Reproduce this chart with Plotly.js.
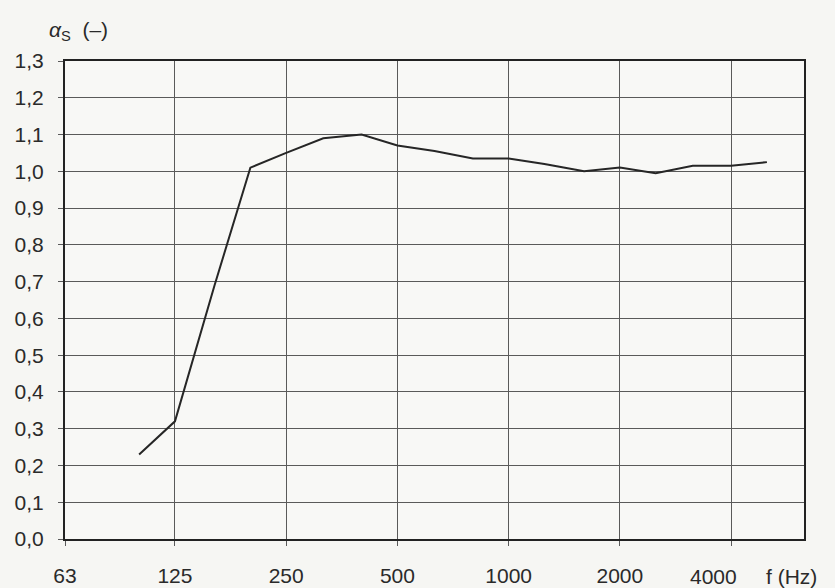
<!DOCTYPE html>
<html>
<head>
<meta charset="utf-8">
<script src="https://cdn.plot.ly/plotly-3.0.1.min.js"></script>
<style>html,body{margin:0;padding:0;background:#f6f6f3;}#chart{width:835px;height:588px;}</style>
</head>
<body>
<div id="chart"></div>
<script>
const frequencies = [100, 125, 160, 200, 250, 315, 400, 500, 630, 800, 1000, 1250, 1600, 2000, 2500, 3150, 4000, 5000];
const alphaS = [0.23, 0.32, 0.69, 1.01, 1.05, 1.09, 1.10, 1.07, 1.055, 1.035, 1.035, 1.02, 1.0, 1.01, 0.995, 1.015, 1.015, 1.025];
const xTickVals = [63, 125, 250, 500, 1000, 2000];
const xTickText = ['63', '125', '250', '500', '1000', '2000'];
const xLastTick = 4000;
const xLastText = '4000';
const yTickVals = [0, 0.1, 0.2, 0.3, 0.4, 0.5, 0.6, 0.7, 0.8, 0.9, 1.0, 1.1, 1.2, 1.3];
const yTickText = ['0,0', '0,1', '0,2', '0,3', '0,4', '0,5', '0,6', '0,7', '0,8', '0,9', '1,0', '1,1', '1,2', '1,3'];

const trace = {
  x: frequencies, y: alphaS, type: 'scatter', mode: 'lines',
  line: {color: '#262626', width: 2}, hoverinfo: 'skip'
};
const font = {family: 'Liberation Sans, Arial, sans-serif', size: 21, color: '#2a2a2a'};
const layout = {
  width: 835, height: 588,
  margin: {l: 65, r: 31, t: 61, b: 49},
  paper_bgcolor: '#f6f6f3', plot_bgcolor: '#f8f8f6',
  showlegend: false,
  font: font,
  xaxis: {
    type: 'log', range: [Math.log10(63), Math.log10(6300)],
    tickmode: 'array', tickvals: xTickVals, ticktext: xTickText,
    showgrid: true, gridcolor: '#5a5a5a', gridwidth: 1,
    ticks: 'outside', ticklen: 5, tickcolor: '#5a5a5a', tickwidth: 1,
    ticklabelstandoff: 12,
    minor: {tickmode: 'array', tickvals: [xLastTick], showgrid: true, gridcolor: '#5a5a5a', gridwidth: 1,
            ticks: 'outside', ticklen: 5, tickcolor: '#5a5a5a', tickwidth: 1},
    showline: true, linecolor: '#222', linewidth: 2, mirror: true,
    zeroline: false, tickfont: font
  },
  yaxis: {
    range: [0, 1.3], tickvals: yTickVals, ticktext: yTickText,
    showgrid: true, gridcolor: '#5a5a5a', gridwidth: 1,
    ticks: 'outside', ticklen: 5, tickcolor: '#5a5a5a', tickwidth: 1,
    ticklabelstandoff: 10,
    showline: true, linecolor: '#222', linewidth: 2, mirror: true,
    zeroline: false, tickfont: font
  },
  annotations: [
    {text: '<i>α</i><sub>S</sub>  (–)', xref: 'paper', yref: 'paper', x: 0, y: 1.0, yshift: 30, xshift: -18,
     xanchor: 'left', yanchor: 'middle', showarrow: false, font: font},
    {text: xLastText, xref: 'x', yref: 'paper', x: Math.log10(xLastTick), y: 0, yshift: -37, xshift: -18,
     xanchor: 'center', yanchor: 'middle', showarrow: false, font: font},
    {text: 'f (Hz)', xref: 'x', yref: 'paper', x: Math.log10(xLastTick), y: 0, yshift: -37, xshift: 60,
     xanchor: 'center', yanchor: 'middle', showarrow: false, font: font}
  ]
};
Plotly.newPlot('chart', [trace], layout, {displayModeBar: false, staticPlot: true});
</script>
</body>
</html>
